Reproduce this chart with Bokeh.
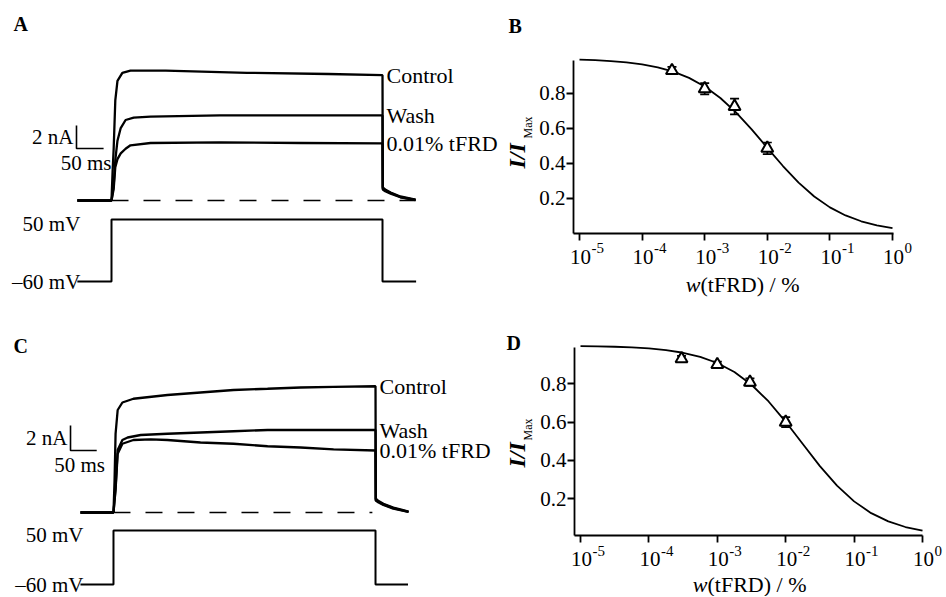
from math import pi
from bokeh.plotting import figure
from bokeh.models import Range1d, ColumnDataSource, Label, Whisker, TeeHead, FixedTicker
from bokeh.layouts import row, column
from bokeh.embed import file_html
from bokeh.resources import INLINE
from bokeh.core.properties import value

SERIF = "Liberation Serif"

# ---------------- data: current traces (time in ms, current in nA) ----------------
PULSE_END = 500
TRACE_NAMES = ["Control", "Wash", "0.01% tFRD"]

A_ctrl_t = [-63, 0, 2, 4, 7, 11, 20, 35, 100, 250, 400, 500, 500.5, 505, 515, 533, 561]
A_ctrl_i = [0, 0, 2.5, 4.5, 8.7, 10.4, 11.1, 11.3, 11.3, 11.1, 11.0, 10.9, 1.15, 0.95, 0.7, 0.35, 0.08]
A_wash_t = [-63, 0, 4, 7, 11, 17, 26, 41, 72, 200, 350, 500, 500.5, 505, 515, 533, 561]
A_wash_i = [0, 0, 1.3, 3.5, 5.2, 6.3, 7.0, 7.2, 7.3, 7.4, 7.4, 7.4, 1.05, 0.88, 0.65, 0.3, 0.05]
A_tfrd_t = [-63, 0, 4, 7, 11, 17, 26, 35, 72, 200, 350, 500, 500.5, 505, 515, 533, 561]
A_tfrd_i = [0, 0, 1.0, 2.9, 3.6, 4.1, 4.5, 4.8, 5.0, 5.05, 5.0, 4.96, 0.95, 0.8, 0.6, 0.28, 0.04]

C_ctrl_t = [-63, 0, 2, 4, 8, 17, 38, 103, 166, 229, 294, 357, 420, 500, 500.5, 505, 515, 534, 563]
C_ctrl_i = [0, 0, 2.5, 6.3, 8.2, 8.8, 9.1, 9.4, 9.6, 9.8, 9.9, 10.0, 10.05, 10.1, 1.1, 0.95, 0.7, 0.4, 0.08]
C_wash_t = [-63, 0, 4, 8, 17, 27, 52, 103, 166, 229, 294, 357, 420, 500, 500.5, 505, 515, 534, 563]
C_wash_i = [0, 0, 2.0, 5.0, 5.8, 6.0, 6.2, 6.3, 6.4, 6.5, 6.6, 6.6, 6.6, 6.6, 1.0, 0.88, 0.65, 0.35, 0.05]
C_tfrd_t = [-63, 0, 4, 8, 17, 38, 71, 103, 166, 229, 294, 357, 420, 500, 500.5, 505, 515, 534, 563]
C_tfrd_i = [0, 0, 1.8, 4.7, 5.5, 5.8, 5.85, 5.8, 5.6, 5.5, 5.3, 5.2, 5.05, 4.96, 0.95, 0.82, 0.6, 0.3, 0.04]

# voltage protocol (mV)
V_t = [-63, 0, 0, 500, 500, 562]
V_mv = [-60, -60, 50, 50, -60, -60]
V_LABELS = ["50 mV", "\u201360 mV"]
V_LEVELS = [50, -60]

SCALE_MS = 50
SCALE_NA = 2

# ---------------- data: concentration-response ----------------
CONC = [3e-4, 1e-3, 3e-3, 1e-2]
B_mean = [0.931, 0.827, 0.726, 0.487]
B_err = [0.021, 0.032, 0.045, 0.033]
D_mean = [0.931, 0.901, 0.809, 0.600]
D_err = [0.015, 0.015, 0.02, 0.026]

FIT_LOGX = [-5, -4.75, -4.5, -4.25, -4, -3.75, -3.5, -3.25, -3, -2.75, -2.5,
            -2.25, -2, -1.75, -1.5, -1.25, -1, -0.75, -0.5, -0.25, 0]
B_fit = [0.9937, 0.9904, 0.9853, 0.9777, 0.9664, 0.9495, 0.9247, 0.8893, 0.8400,
         0.7744, 0.6918, 0.5948, 0.4897, 0.3856, 0.2910, 0.2116, 0.1493, 0.1030,
         0.0698, 0.0468, 0.0311]
D_fit = [0.9977, 0.9963, 0.9941, 0.9906, 0.9851, 0.9763, 0.9626, 0.9413, 0.9091,
         0.8618, 0.7955, 0.7082, 0.6021, 0.4859, 0.3708, 0.2688, 0.1865, 0.1251,
         0.0819, 0.0527, 0.0335]

X_TICKS = [1e-5, 1e-4, 1e-3, 1e-2, 1e-1, 1e0]
X_EXP = ["-5", "-4", "-3", "-2", "-1", "0"]
Y_TICKS = [0.2, 0.4, 0.6, 0.8]


def letter(p, txt, x, y):
    p.add_layout(Label(x=x, y=y, x_units="screen", y_units="screen", text=txt,
                       text_font=SERIF, text_font_style="bold", text_font_size="20px",
                       text_baseline="middle", text_color="black"))


def base_fig(w, h, **kw):
    p = figure(width=w, height=h, output_backend="svg", toolbar_location=None,
               min_border=0, **kw)
    p.grid.visible = False
    p.outline_line_color = None
    p.background_fill_color = "white"
    return p


def trace_panel(w, h, t_rng, i_rng, v_rng, traces, dash_end, bar_t, bar_i,
                px_ms, px_na, let, let_xy):
    p = base_fig(w, h, x_range=Range1d(*t_rng), y_range=Range1d(*i_rng),
                 x_axis_location=None, y_axis_location=None)
    p.extra_y_ranges = {"v": Range1d(*v_rng)}

    p.line([0, dash_end], [0, 0], line_color="black", line_width=1.6, line_dash="17 15")
    for t, i in traces:
        p.line(t, i, line_color="black", line_width=2.3)
    p.line(V_t, V_mv, y_range_name="v", line_color="black", line_width=2)

    # scale bar
    p.line([bar_t, bar_t, bar_t + SCALE_MS], [bar_i + SCALE_NA, bar_i, bar_i],
           line_color="black", line_width=1.6)
    p.text(x=[bar_t], y=[bar_i + SCALE_NA / 2], text=["2 nA"], x_offset=-3,
           text_align="right", text_baseline="middle", text_font=value(SERIF),
           text_font_size="21px", text_color="black")
    p.text(x=[bar_t + SCALE_MS / 2 - 4 / px_ms], y=[bar_i - 14 / px_na], text=["50 ms"],
           text_align="center", text_baseline="middle", text_font=value(SERIF),
           text_font_size="21px", text_color="black")

    # trace labels at the end of the pulse
    ends = [i[t.index(PULSE_END)] for t, i in traces]
    p.text(x=[PULSE_END] * 3, y=ends, text=TRACE_NAMES, x_offset=4,
           text_align="left", text_baseline="middle", text_font=value(SERIF),
           text_font_size="22px", text_color="black")

    # voltage labels
    p.text(x=[V_t[0]] * 2, y=V_LEVELS, text=V_LABELS, x_offset=3, y_offset=[4, 0],
           y_range_name="v", text_align="right", text_baseline="middle",
           text_font=value(SERIF), text_font_size="21px", text_color="black")
    letter(p, let, *let_xy)
    return p


def dose_panel(w, h, lx_view, y_view, lx_axis, y_axis, px_unit, fit, mean, err,
               let, let_xy, ylab_xy, sub_xy, xlab_x, xlab_y):
    p = base_fig(w, h, x_axis_type="log",
                 x_range=Range1d(10 ** lx_view[0], 10 ** lx_view[1]),
                 y_range=Range1d(*y_view))
    x0, x1 = 10 ** lx_axis[0], 10 ** lx_axis[1]
    for ax in (p.xaxis, p.yaxis):
        ax.axis_line_color = "black"
        ax.axis_line_width = 1.8
        ax.major_tick_line_color = "black"
        ax.major_tick_line_width = 1.8
        ax.major_tick_out = 7
        ax.major_tick_in = 0
        ax.minor_tick_line_color = None
    p.xaxis.fixed_location = y_axis[0]
    p.xaxis.bounds = (x0, x1)
    p.yaxis.fixed_location = x0
    p.yaxis.bounds = y_axis
    p.xaxis.ticker = FixedTicker(ticks=X_TICKS, minor_ticks=[])
    p.yaxis.ticker = FixedTicker(ticks=Y_TICKS, minor_ticks=[])
    p.xaxis.major_label_text_color = None
    p.yaxis.major_label_text_font = SERIF
    p.yaxis.major_label_text_font_size = "21px"
    p.yaxis.major_label_text_color = "black"
    p.yaxis.major_label_standoff = 1

    fit_x = [10 ** v for v in FIT_LOGX]
    p.line(fit_x, fit, line_color="black", line_width=1.8)

    src = ColumnDataSource(dict(x=CONC, y=mean,
                                upper=[m + e for m, e in zip(mean, err)],
                                lower=[m - e for m, e in zip(mean, err)]))
    p.add_layout(Whisker(base="x", upper="upper", lower="lower", source=src,
                         dimension="height", line_color="black", line_width=1.7,
                         upper_head=TeeHead(size=9, line_width=1.7, line_color="black"),
                         lower_head=TeeHead(size=9, line_width=1.7, line_color="black")))
    p.scatter("x", "y", source=src, marker="triangle", size=12, fill_color="white",
              line_color="black", line_width=2)

    # tick labels 10^n with raised exponent (centres 23.5 px and 15 px below the axis)
    n = len(X_TICKS)
    p.text(x=X_TICKS, y=[y_axis[0] - 23.5 / px_unit] * n, text=["10"] * n, x_offset=1,
           text_align="center", text_baseline="middle", text_font=value(SERIF),
           text_font_size="21px", text_color="black")
    p.text(x=X_TICKS, y=[y_axis[0] - 15 / px_unit] * n, text=X_EXP, x_offset=12,
           text_align="left", text_baseline="middle", text_font=value(SERIF),
           text_font_size="15px", text_color="black")

    # y-axis label  I/I_Max  (rotated)
    p.add_layout(Label(x=ylab_xy[0], y=ylab_xy[1], x_units="screen", y_units="screen",
                       text="I/I", angle=pi / 2, text_font=SERIF,
                       text_font_style="bold italic", text_font_size="24px",
                       text_baseline="middle", text_align="left", text_color="black"))
    p.add_layout(Label(x=sub_xy[0], y=sub_xy[1], x_units="screen", y_units="screen",
                       text="Max", angle=pi / 2, text_font=SERIF, text_font_size="12px",
                       text_baseline="middle", text_align="left", text_color="black"))
    # x-axis label  w(tFRD) / %
    p.add_layout(Label(x=xlab_x, y=xlab_y, x_units="screen", y_units="screen",
                       text="w", text_font=SERIF, text_font_style="italic",
                       text_font_size="22px", text_align="right",
                       text_baseline="middle", text_color="black"))
    p.add_layout(Label(x=xlab_x, y=xlab_y, x_units="screen", y_units="screen",
                       text="(tFRD) / %", text_font=SERIF, text_font_size="22px",
                       text_align="left", text_baseline="middle", text_color="black"))
    letter(p, let, *let_xy)
    return p


pA = trace_panel(500, 300, (-204.8, 717.7), (-8.696, 17.391), (-93.7, 438.6),
                 [(A_ctrl_t, A_ctrl_i), (A_wash_t, A_wash_i), (A_tfrd_t, A_tfrd_i)],
                 561, -64.6, 4.52, 0.542, 11.5, "A", (13, 276.5))
pC = trace_panel(500, 296, (-215.6, 738.5), (-6.72, 16.96), (-84.4, 518.5),
                 [(C_ctrl_t, C_ctrl_i), (C_wash_t, C_wash_i), (C_tfrd_t, C_tfrd_i)],
                 494, -82.0, 4.96, 0.524, 12.5, "C", (13, 251))
pB = dose_panel(444, 300, (-6.262, 0.8307), (-0.3829, 1.3314), (-5.096, 0.016),
                (0.0, 0.989), 175.0, B_fit, B_mean, B_err, "B", (8, 275),
                (16, 132), (27.5, 162), 200, 16)
pD = dose_panel(444, 296, (-6.1696, 0.3216), (-0.3102, 1.2355), (-5.088, 0.0),
                (0.008, 0.99), 191.5, D_fit, D_mean, D_err, "D", (6, 253.5),
                (16, 129), (27.5, 156), 207, 12)

layout = column(row(pA, pB, spacing=0), row(pC, pD, spacing=0), spacing=0)
open("out.html", "w").write(file_html(layout, INLINE))
